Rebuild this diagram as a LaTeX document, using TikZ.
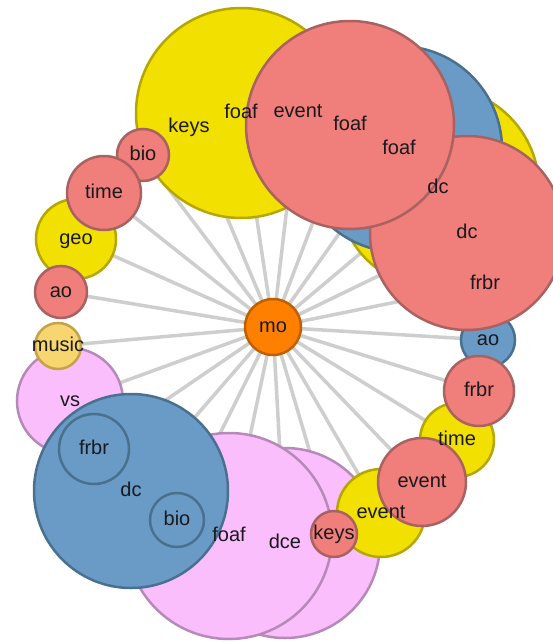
\documentclass[tikz,border=0pt]{standalone}
\usepackage{fontspec}
\setmainfont{Liberation Sans}
\pgfdeclarelayer{bg}
\pgfsetlayers{bg,main}

\definecolor{ylw}{RGB}{242,224,0}
\definecolor{ylwline}{RGB}{181,166,0}
\definecolor{salmon}{RGB}{240,126,122}
\definecolor{salmonline}{RGB}{168,98,98}
\definecolor{steel}{RGB}{106,155,198}
\definecolor{steelline}{RGB}{74,112,143}
\definecolor{lilac}{RGB}{251,190,252}
\definecolor{lilacline}{RGB}{182,138,184}
\definecolor{gold}{RGB}{247,214,112}
\definecolor{goldline}{RGB}{196,162,74}
\definecolor{orng}{RGB}{255,128,0}
\definecolor{orngline}{RGB}{190,95,0}
\definecolor{spokegray}{RGB}{206,206,206}
\definecolor{ink}{RGB}{25,25,30}

\tikzset{
  bubble/.style={circle, inner sep=0pt, outer sep=0pt, line width=2.5pt,
                 minimum size={2*#1*1pt}},
  ybub/.style={bubble=#1, fill=ylw, draw=ylwline},
  pbub/.style={bubble=#1, fill=salmon, draw=salmonline},
  bbub/.style={bubble=#1, fill=steel, draw=steelline},
  lbub/.style={bubble=#1, fill=lilac, draw=lilacline},
  gbub/.style={bubble=#1, fill=gold, draw=goldline},
  obub/.style={bubble=#1, fill=orng, draw=orngline},
  spoke/.style={draw=spokegray, line width=3.5pt},
  lbl/.style={inner sep=0pt, text=ink, text height=10.6pt, text depth=0pt,
              font=\fontsize{20}{24}\selectfont},
}

\begin{document}
\begin{tikzpicture}[x=1pt, y=-1pt]
  \useasboundingbox (0,0) rectangle (553,643);
  \clip (0,0) rectangle (553,643);

  % centres whose circles lie wholly under others
  \coordinate (keysH)  at (189,127);
  \coordinate (eventH) at (298,112);
  \coordinate (frbrH)  at (485,284);

  % bubbles, from the bottom of the stack upwards
  \node[lbub=95]  (dce)    at (285,543) {};
  \node[lbub=103] (foafL)  at (229,536) {};
  \node[lbub=53]  (vs)     at (70,401)  {};
  \node[bbub=97]  (dcB)    at (131,491) {};
  \node[bbub=35]  (frbrI)  at (94,449)  {};
  \node[bbub=27]  (bioI)   at (177,520) {};
  \node[gbub=23]  (music)  at (58,346)  {};
  \node[ybub=40]  (geo)    at (76,239)  {};
  \node[pbub=26]  (aoL)    at (61,292)  {};
  \node[ybub=105] (foafY)  at (241,113) {};
  \node[pbub=26]  (bioL)   at (143,155) {};
  \node[pbub=37]  (timeL)  at (104,193) {};
  \node[ybub=101] (dcY)    at (438,188) {};
  \node[bbub=103] (foafB)  at (399,149) {};
  \node[bbub=27]  (aoB)    at (488,340) {};
  \node[pbub=97]  (dcP)    at (467,233) {};
  \node[pbub=104] (foafP)  at (350,125) {};
  \node[ybub=37]  (timeY)  at (457,440) {};
  \node[pbub=35]  (frbrP)  at (479,391) {};
  \node[ybub=44]  (eventY) at (381,513) {};
  \node[pbub=44]  (eventP) at (422,482) {};
  \node[pbub=23]  (keysP)  at (334,534) {};

  \node[obub=28]  (mo)     at (273,327) {};

  % white ground and spokes from the hub to every bubble
  \begin{pgfonlayer}{bg}
    \fill[white] (0,0) rectangle (553,643);
    \foreach \n in {dce,foafL,vs,dcB,frbrI,bioI,music,geo,aoL,bioL,timeL,
                    foafY,keysH,eventH,dcY,foafB,frbrH,aoB,dcP,foafP,timeY,
                    frbrP,eventY,eventP,keysP}
      \draw[spoke] (mo.center) -- (\n.center);
  \end{pgfonlayer}

  % labels sit above all the bubbles
  \node[lbl] (t-keysH)  at (keysH)  {keys};
  \node[lbl] (t-foafY)  at (foafY)  {foaf};
  \node[lbl] (t-eventH) at (eventH) {event};
  \node[lbl] (t-foafP)  at (foafP)  {foaf};
  \node[lbl] (t-foafB)  at (foafB)  {foaf};
  \node[lbl] (t-dcY)    at (dcY)    {dc};
  \node[lbl] (t-dcP)    at (dcP)    {dc};
  \node[lbl] (t-frbrH)  at (frbrH)  {frbr};
  \node[lbl] (t-aoB)    at (aoB)    {ao};
  \node[lbl] (t-frbrP)  at (frbrP)  {frbr};
  \node[lbl] (t-timeY)  at (timeY)  {time};
  \node[lbl] (t-eventP) at (eventP) {event};
  \node[lbl] (t-eventY) at (eventY) {event};
  \node[lbl] (t-keysP)  at (keysP)  {keys};
  \node[lbl] (t-dce)    at (dce)    {dce};
  \node[lbl] (t-foafL)  at (foafL)  {foaf};
  \node[lbl] (t-dcB)    at (dcB)    {dc};
  \node[lbl] (t-frbrI)  at (frbrI)  {frbr};
  \node[lbl] (t-bioI)   at (bioI)   {bio};
  \node[lbl] (t-vs)     at (vs)     {vs};
  \node[lbl] (t-music)  at (music)  {music};
  \node[lbl] (t-aoL)    at (aoL)    {ao};
  \node[lbl] (t-geo)    at (geo)    {geo};
  \node[lbl] (t-timeL)  at (timeL)  {time};
  \node[lbl] (t-bioL)   at (bioL)   {bio};
  \node[lbl] (t-mo)     at (mo)     {mo};
\end{tikzpicture}
\end{document}
